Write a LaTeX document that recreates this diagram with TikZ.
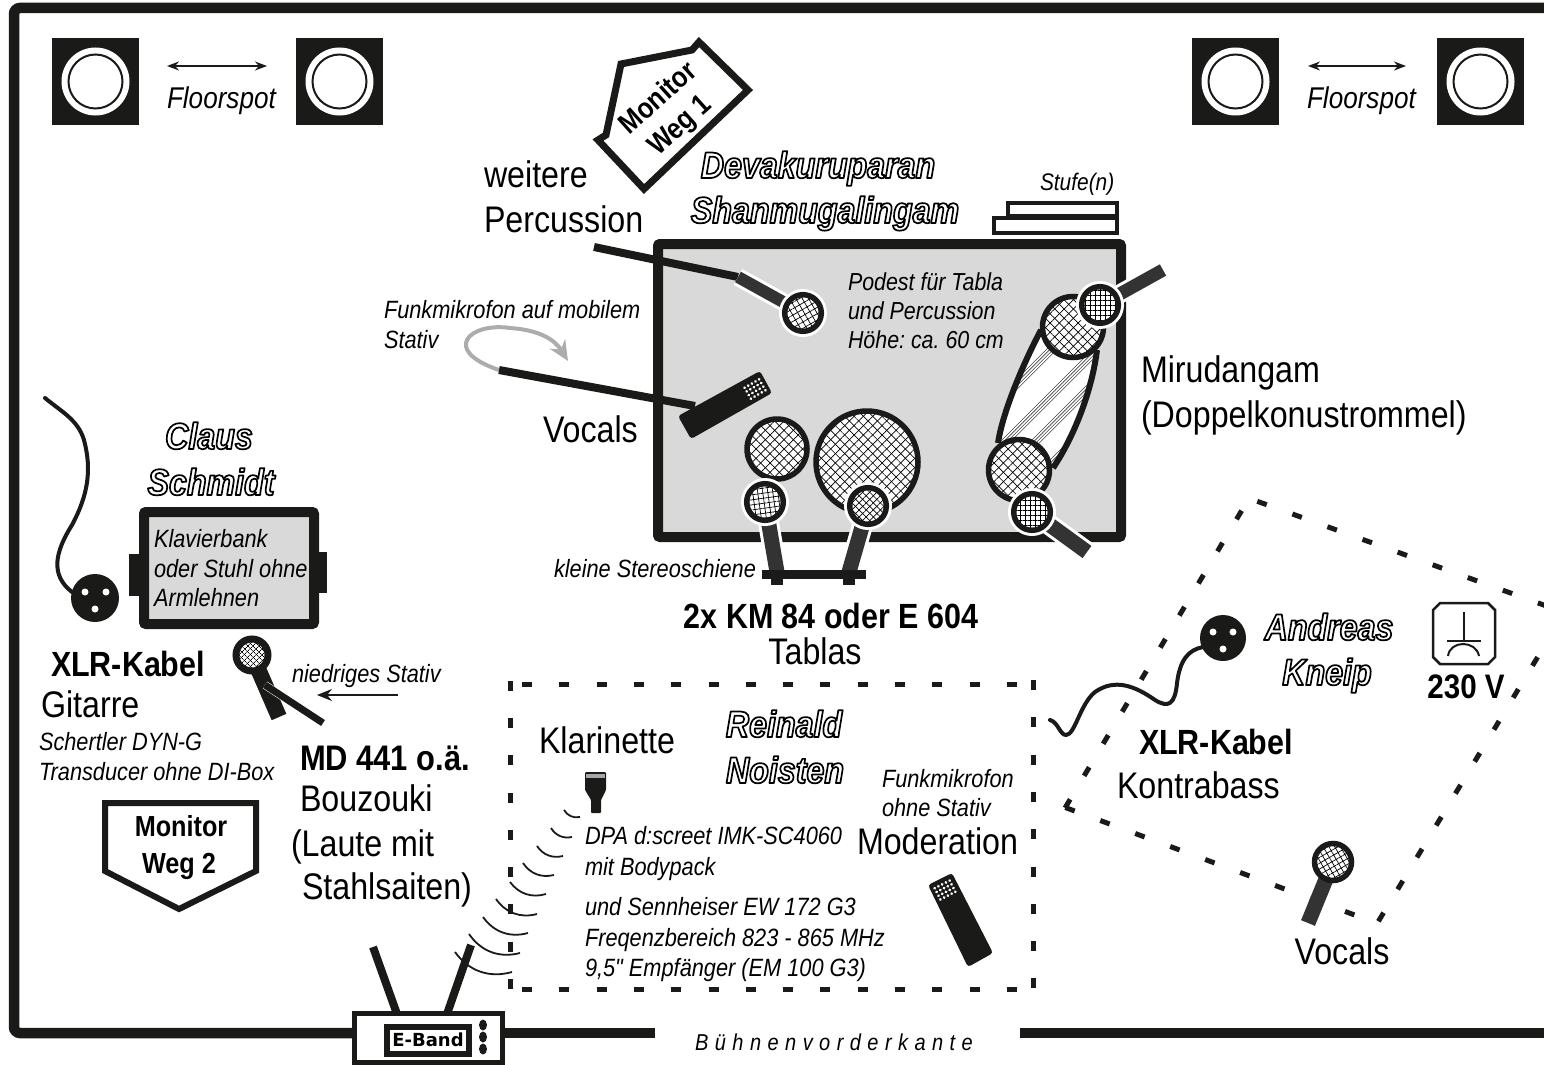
\documentclass[tikz,border=0pt]{standalone}
\usepackage{fontspec}
\setmainfont[FakeStretch=0.87]{Liberation Sans}
\newfontfamily\rawfam[FakeStretch=0.87]{Liberation Sans}
\newfontfamily\ebandfont{DejaVu Sans}
\usetikzlibrary{patterns.meta,arrows.meta}
\definecolor{ink}{HTML}{1A1A18}
\definecolor{handle}{HTML}{333333}
\definecolor{pod}{HTML}{D9D9D9}
\frenchspacing
\newcommand\outl[1]{\special{pdf:code q 1 j 0 0 0 RG 1 1 1 rg 2 Tr 1.7 w}#1\special{pdf:code Q}}
\newcommand\fsz[1]{\fontsize{#1}{#1}\selectfont}
\tikzset{
 meshb/.style n args={3}{preaction={fill=white},
   preaction={pattern={Lines[angle=#1,distance=#3,line width=.7pt]},pattern color=#2},
   pattern={Lines[angle=#1+90,distance=#3,line width=.7pt]},pattern color=#2},
 txt/.style={inner sep=0pt,outer sep=0pt,anchor=base west,align=left},
 ctr/.style={inner sep=0pt,outer sep=0pt,anchor=base},
 big/.style={font=\fsz{37}},
 bld/.style={font=\fsz{35}\bfseries},
 ital/.style={font=\fsz{24.6}\itshape},
 smit/.style={font=\fsz{25}\itshape},
 flo/.style={font=\fsz{30}\itshape},
 who/.style={font=\fsz{37}\bfseries\itshape},
 dash5/.style={ink,line width=5pt,dash pattern=on 10pt off 27.3pt},
 thickline/.style={ink,line width=8pt},
 cable/.style={ink,line width=4pt,line cap=round,line join=round},
 spotbox/.style={fill=ink,draw=none},
 twoarrow/.style={{Stealth[length=12pt,width=9pt]}-{Stealth[length=12pt,width=9pt]},ink,line width=1.6pt},
}
% head centre, end of stem, stem width, head radius, mesh angle, mesh distance
\newcommand\micro[6]{%
 \draw[white,line width=#3pt+6pt] #1 -- #2;
 \draw[handle,line width=#3pt] #1 -- #2;
 \fill[white] #1 circle[radius=#4pt+3pt];
 \draw[ink,line width=5.5pt,meshb={#5}{black}{#6pt}] #1 circle[radius=#4pt-2.7pt];}
\newcommand\floorspot[2]{%
 \fill[spotbox] (#1,#2) rectangle +(87,87);
 \fill[white] (#1+43.5,#2+43.5) circle[radius=34pt];
 \draw[ink,line width=2pt] (#1+43.5,#2+43.5) circle[radius=27pt];}
\newcommand\grille{%
 \foreach \i in {-2,-1,0,1,2}\foreach \j in {-1.5,-.5,.5,1.5}
   \fill[white] ({\i*4.2},{\j*4.2}) circle[radius=1.5pt];}
\begin{document}
\begin{tikzpicture}[x=1pt,y=-1pt]
\useasboundingbox (0,0) rectangle (1544,1065);
% stage frame
\draw[ink,line width=10.5pt,rounded corners=6pt] (1544,8) -- (14,8) -- (14,1033) -- (355,1033);
\draw[ink,line width=10pt] (500,1033) -- (655,1033);
\draw[ink,line width=10pt] (1020,1033) -- (1544,1033);
% floorspots
\floorspot{52}{38}\floorspot{296}{38}\floorspot{1192}{38}\floorspot{1437}{38}
\coordinate (fa1) at (167,66); \coordinate (fb1) at (267,66);
\coordinate (fa2) at (1308,66); \coordinate (fb2) at (1406,66);
\draw[twoarrow] (fa1) -- (fb1);
\draw[twoarrow] (fa2) -- (fb2);
\node[txt,flo] (f1) at (167,108) {Floorspot};
\node[txt,flo] (f2) at (1307,108) {Floorspot};
% monitor 1
\draw[ink,line width=7pt,fill=white,line join=miter] (699,42) -- (748,90) -- (644,189) -- (598,140) -- (606,135) -- (621,64) -- (692,50) -- cycle;
\node[font=\fsz{29}\bfseries,rotate=42,inner sep=0pt] (m1a) at (657,97) {Monitor};
\node[font=\fsz{29}\bfseries,rotate=42,inner sep=0pt] (m1b) at (681,127) {Weg 1};
% podest
\draw[ink,line width=10pt,fill=pod,rounded corners=2pt] (658,244) rectangle (1121,537);
% Stufen
\draw[ink,line width=4.5pt,fill=white] (1008,203) rectangle (1117,216);
\draw[ink,line width=4.5pt,fill=white] (994,218) rectangle (1117,233);
\node[txt,font=\fsz{24}\itshape] (stufe) at (1040,190) {Stufe(n)};
% percussion mic
\draw[thickline] (594,247) -- (738,277);
\micro{(803,313)}{(738,277)}{12}{21}{30}{5.5}
% podest text
\node[txt,ital] at (848,290) {Podest für Tabla};
\node[txt,ital] at (848,319) {und Percussion};
\node[txt,ital] at (848,348) {Höhe: ca. 60 cm};
% wireless vocals
\draw[gray!65,line width=4pt,-{Stealth[length=20pt,width=18pt]}] (499,370) .. controls (440,350) and (470,322) .. (510,328) .. controls (540,330) and (555,340) .. (568,361);
\draw[thickline] (499,370) -- (695,406);
\fill[ink,rounded corners=3pt] (678,416) -- (691,439) -- (772,393) -- (760,371) -- cycle;
\begin{scope}[shift={(755,389)},rotate=30] \grille \end{scope}
% tablas
\draw[ink,line width=5.5pt,meshb={45}{black}{6.6pt}] (777,449) circle[radius=30pt];
\draw[ink,line width=5.5pt,meshb={45}{black}{6.6pt}] (867,462) circle[radius=51pt];
\micro{(765,502)}{(777,572)}{15}{21}{8}{5}
\micro{(868,506)}{(849,572)}{15}{21}{45}{5}
\fill[ink] (762,570) rectangle (866,579);
\fill[ink] (771,570) rectangle (783,585);
\fill[ink] (843,570) rectangle (855,585);
\node[txt,font=\fsz{25}\itshape] (st) at (554,577) {kleine Stereoschiene};
\node[ctr,bld] (t1) at (831,628) {2x KM 84 oder E 604};
\node[ctr,big] (t2) at (815,664) {Tablas};
% mirudangam
\begin{scope}
\clip (1041,330) .. controls (1025,360) and (1003,410) .. (998,443) -- (1053,468) .. controls (1075,435) and (1092,390) .. (1097,350) -- cycle;
\fill[white] (990,320) rectangle (1110,480);
\foreach \s in {1396,1442,1472,1510}{
 \foreach \d in {0,3.4,6.8,10.2}{
  \draw[black!75,line width=.6pt] (980,{\s+\d-980}) -- (1120,{\s+\d-1120});
 }}
\end{scope}
\draw[ink,line width=6pt] (1041,330) .. controls (1025,360) and (1003,410) .. (998,443);
\draw[ink,line width=6pt] (1053,468) .. controls (1075,435) and (1092,390) .. (1097,350);
\draw[ink,line width=5.5pt,meshb={45}{black}{6.6pt}] (1073,327) circle[radius=30.5pt];
\draw[ink,line width=5.5pt,meshb={45}{black}{6.6pt}] (1019,470) circle[radius=30.5pt];
\micro{(1100,305)}{(1163,270)}{13}{21}{0}{5}
\micro{(1032,512)}{(1087,552)}{15}{21}{0}{5}
% names and labels
\node[ctr,who] (dev) at (818,178) {\outl{Devakuruparan}};
\node[ctr,who] (sha) at (825,223) {\outl{Shanmugalingam}};
\node[txt,big] (we) at (484,187) {weitere};
\node[txt,big] (pe) at (484,232) {Percussion};
\node[txt,smit] (fm) at (384,318) {Funkmikrofon auf mobilem};
\node[txt,smit] (fs) at (384,348) {Stativ};
\node[txt,big] (mi) at (1141,382) {Mirudangam};
\node[txt,big] (dk) at (1141,427) {(Doppelkonustrommel)};
\node[txt,big] (vo) at (543,442) {Vocals};
% Claus
\node[ctr,who] (cl) at (209,449) {\outl{Claus}};
\node[ctr,who] (sc) at (211,495) {\outl{Schmidt}};
\fill[ink] (129,554) rectangle (142,596);
\fill[ink] (316,552) rectangle (327,593);
\draw[ink,line width=10pt,fill=pod,rounded corners=2pt] (144,512) rectangle (314,624);
\node[txt,smit] at (154,547) {Klavierbank};
\node[txt,smit] at (154,577) {oder Stuhl ohne};
\node[txt,smit] at (154,606) {Armlehnen};
% left XLR
\coordinate (xa) at (95,598);
\fill[ink] (xa) circle[radius=24pt];
\fill[white] (85,592) circle[radius=3.5pt] (106,592) circle[radius=3.5pt] (95,609) circle[radius=3.5pt];
\draw[cable] (45,398) .. controls (62,412) and (78,420) .. (84,440) .. controls (92,470) and (88,495) .. (72,525) .. controls (55,552) and (50,575) .. (72,592);
\node[txt,bld] at (51,676) {XLR-Kabel};
\node[txt,big] at (41,717) {Gitarre};
\node[txt,smit] at (39,750) {Schertler DYN-G};
\node[txt,smit] at (39,780) {Transducer ohne DI-Box};
% bouzouki mic
\draw[ink,line width=16pt] (252,655) -- (279,717);
\draw[white,line width=8pt] (265,685) -- (323,723);
\draw[ink,line width=7pt] (265,685) -- (323,723);
\draw[ink,line width=7pt,meshb={45}{black}{4pt}] (252,655) circle[radius=16pt];
\node[txt,smit] at (292,682) {niedriges Stativ};
\coordinate (na) at (398,695); \coordinate (nb) at (317,695);
\draw[ink,line width=1.8pt,-{Stealth[length=15pt,width=12pt]}] (na) -- (nb);
\node[txt,font=\fsz{35.5}\bfseries] at (300,770) {MD 441 o.ä.};
\node[txt,big] at (300,811) {Bouzouki};
\node[txt,big] at (291,856) {(Laute mit};
\node[txt,big] at (302,899) {Stahlsaiten)};
% monitor 2
\draw[ink,line width=6pt,fill=white] (105,803) -- (256,803) -- (256,871) -- (179,909) -- (105,871) -- cycle;
\node[ctr,font=\fsz{29}\bfseries] at (181,836) {Monitor};
\node[ctr,font=\fsz{29}\bfseries] at (179,873) {Weg 2};
% dashed zones
\draw[dash5] (510,989) -- (510,680);
\draw[dash5] (522,684) -- (1033,684);
\draw[dash5] (1033,680) -- (1033,990);
\draw[dash5] (522,989) -- (1035,989);
\draw[dash5] (1257.3,501.3) -- (1563,612);
\draw[dash5] (1378.4,921.3) -- (1560,620);
\draw[dash5] (1065.3,807.5) -- (1360,917);
\draw[dash5] (1241.6,510.7) -- (1065,808);
% klarinette
\node[txt,big] at (539,753) {Klarinette};
\fill[ink,rounded corners=1pt] (585,772) -- (606,772) -- (606,790) -- (601,800) -- (601,813) -- (591,813) -- (591,800) -- (585,790) -- cycle;
\fill[gray!70] (586,774) rectangle (605,778);
\foreach \ax/\ay/\bx/\by in {564/810/580/817,551/828/572/837,537/846/563/856,523/863/554/875,510/882/546/894,496/899/537/914,483/917/528/933,469/934/520/953,455/952/512/972}
 \draw[ink,line width=1.8pt] (\ax,\ay) to[bend right=35] (\bx,\by);
\node[txt,smit] at (585,844) {DPA d:screet IMK-SC4060};
\node[txt,smit] at (585,875) {mit Bodypack};
\node[txt,smit] at (585,915) {und Sennheiser EW 172 G3};
\node[txt,smit] at (585,946) {Freqenzbereich 823 - 865 MHz};
\node[txt,smit] at (585,976) {9,5{\rawfam\itshape"} Empfänger (EM 100 G3)};
\node[ctr,who] (re) at (784,737) {\outl{Reinald}};
\node[ctr,who] (no) at (785,783) {\outl{Noisten}};
\node[txt,smit] at (882,787) {Funkmikrofon};
\node[txt,smit] at (882,816) {ohne Stativ};
\node[txt,big] at (857,854) {Moderation};
% moderation mic
\fill[ink,rounded corners=3pt] (928,885) -- (952,873) -- (993,953) -- (968,967) -- cycle;
\begin{scope}[shift={(945,890)},rotate=27] \grille \end{scope}
% right XLR
\coordinate (xb) at (1223,638);
\fill[ink] (xb) circle[radius=23pt];
\fill[white] (1213,632) circle[radius=3.5pt] (1233,632) circle[radius=3.5pt] (1223,649) circle[radius=3.5pt];
\draw[cable] (1203,647) .. controls (1188,650) and (1180,660) .. (1177,683) .. controls (1175,705) and (1168,708) .. (1155,700) .. controls (1135,686) and (1115,678) .. (1095,692) .. controls (1080,704) and (1075,735) .. (1066,735) .. controls (1060,735) and (1058,722) .. (1050,720);
\node[ctr,who] (an) at (1329,640) {\outl{Andreas}};
\node[ctr,who] (kn) at (1327,685) {\outl{Kneip}};
% socket
\draw[ink,line width=2.5pt] (1440,603) -- (1488,603) -- (1495,610) -- (1495,657) -- (1488,664) -- (1440,664) -- (1433,657) -- (1433,610) -- cycle;
\draw[ink,line width=2pt] (1464,612) -- (1464,641) (1447,641) -- (1481,641);
\draw[ink,line width=2pt] (1448,656) .. controls (1450,640) and (1476,640) .. (1479,656);
\node[ctr,font=\fsz{34}\bfseries] at (1466,698) {230 V};
\node[txt,bld] at (1139,754) {XLR-Kabel};
\node[txt,big] at (1117,798) {Kontrabass};
% vocals right
\draw[handle,line width=15pt] (1333,862) -- (1308,923);
\draw[ink,line width=5.5pt,meshb={30}{black}{5pt}] (1333,862) circle[radius=18.5pt];
\node[ctr,big] at (1342,964) {Vocals};
% E-Band
\coordinate (an1) at (373,947); \coordinate (an2) at (471,945);
\draw[ink,line width=8pt] (397,1014) -- (an1);
\draw[ink,line width=8pt] (447,1014) -- (an2);
\draw[ink,line width=5pt,fill=white] (354,1013) rectangle (502,1062);
\node[draw=ink,line width=6pt,fill=white,minimum width=82pt,minimum height=27pt,inner sep=0pt,font=\fsz{18}\ebandfont\bfseries] (eb) at (428,1040) {E-Band};
\fill[ink] (483,1025) ellipse[x radius=4pt,y radius=5.5pt];
\fill[ink] (483,1037) ellipse[x radius=4pt,y radius=5.5pt];
\fill[ink] (483,1049) ellipse[x radius=4pt,y radius=5.5pt];
\node[ctr,font=\fsz{23}\itshape] (bk) at (834,1050) {\addfontfeature{LetterSpace=28}Bühnenvorderkante};
\end{tikzpicture}
\end{document}
